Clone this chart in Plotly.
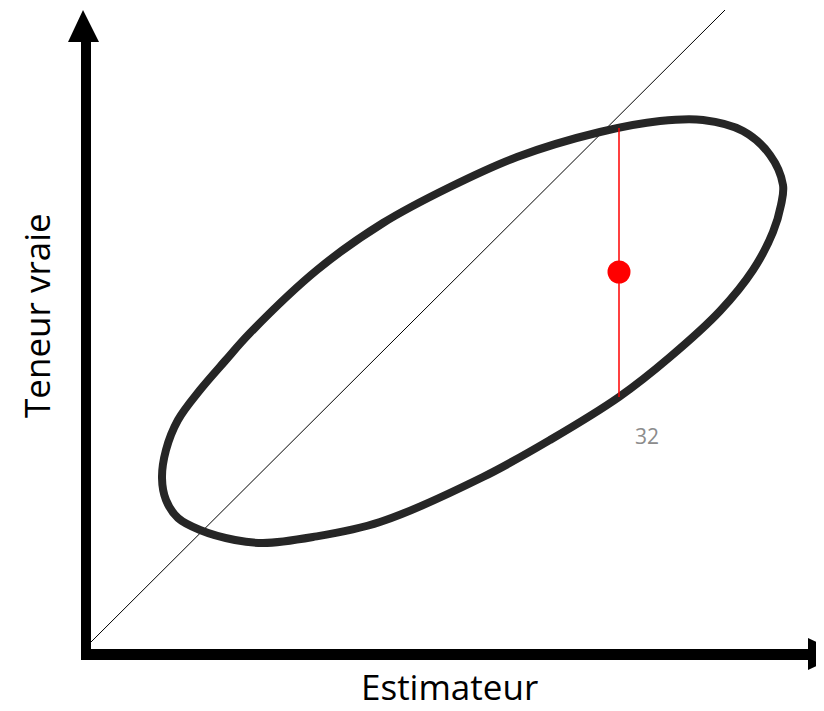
import plotly.graph_objects as go

# ---- data (diagram coordinates, origin at the axes corner) ----
ellipse_x = [76, 80, 92, 114, 139, 164, 231, 297, 364, 431, 514, 574, 617, 657, 684, 697, 695, 687,
             667, 634, 584, 533, 464, 397, 294, 227, 177, 149, 114, 92, 80, 76]
ellipse_y = [176, 204, 234, 264, 293, 321, 384, 431, 467, 497, 522, 533, 534, 523, 499, 469, 449, 422,
             384, 343, 297, 257, 214, 177, 132, 117, 111, 114, 124, 136, 154, 176]

diag_x = [2, 639]
diag_y = [9, 644]

seg_x = [533, 533]
seg_y = [257, 526]

point_x = [533]
point_y = [382]

label_text = "32"
label_x = 561
label_y = 218

x_title = "Estimateur"
y_title = "Teneur vraie"

# axes (shafts and arrowheads)
vaxis_x, vaxis_y = [0, 0], [-6, 612]
haxis_x, haxis_y = [-4, 722], [-0.5, -0.5]
varrow_x, varrow_y = [-18, 13, -3, -18], [612, 612, 644, 612]
harrow_x, harrow_y = [722, 722, 756, 722], [16, -16, 0, 16]

fig = go.Figure()

fig.add_trace(go.Scatter(x=diag_x, y=diag_y, mode="lines",
                         line=dict(color="black", width=1), hoverinfo="skip"))
fig.add_trace(go.Scatter(x=ellipse_x, y=ellipse_y, mode="lines",
                         line=dict(color="#262626", width=8, shape="spline", smoothing=1.0),
                         hoverinfo="skip"))
fig.add_trace(go.Scatter(x=seg_x, y=seg_y, mode="lines",
                         line=dict(color="#ff0000", width=1.5), hoverinfo="skip"))
fig.add_trace(go.Scatter(x=point_x, y=point_y, mode="markers",
                         marker=dict(color="#ff0000", size=23, line=dict(width=0)),
                         hoverinfo="skip"))

fig.add_trace(go.Scatter(x=vaxis_x, y=vaxis_y, mode="lines",
                         line=dict(color="black", width=10), hoverinfo="skip"))
fig.add_trace(go.Scatter(x=haxis_x, y=haxis_y, mode="lines",
                         line=dict(color="black", width=11), hoverinfo="skip"))
fig.add_trace(go.Scatter(x=varrow_x, y=varrow_y, mode="lines", fill="toself",
                         fillcolor="black", line=dict(color="black", width=0), hoverinfo="skip"))
fig.add_trace(go.Scatter(x=harrow_x, y=harrow_y, mode="lines", fill="toself",
                         fillcolor="black", line=dict(color="black", width=0), hoverinfo="skip"))

fig.add_annotation(x=label_x, y=label_y, text=label_text, showarrow=False,
                   font=dict(family="Open Sans", size=21, color="#8c8c8c"),
                   xanchor="center", yanchor="middle")
fig.add_annotation(x=363, y=-57, text=x_title, showarrow=False, borderpad=0,
                   font=dict(family="Open Sans", size=35, color="black"),
                   xanchor="center", yanchor="bottom")
fig.add_annotation(x=-50, y=338, text=y_title, showarrow=False, textangle=-90,
                   font=dict(family="Open Sans", size=35, color="black"),
                   xanchor="center", yanchor="middle")

fig.update_layout(
    width=816, height=703,
    margin=dict(l=0, r=0, t=0, b=0),
    paper_bgcolor="white", plot_bgcolor="white",
    showlegend=False,
    xaxis=dict(range=[-78, 738], visible=False, fixedrange=True),
    yaxis=dict(range=[-57, 646], visible=False, fixedrange=True),
)

fig.write_html("out.html")
